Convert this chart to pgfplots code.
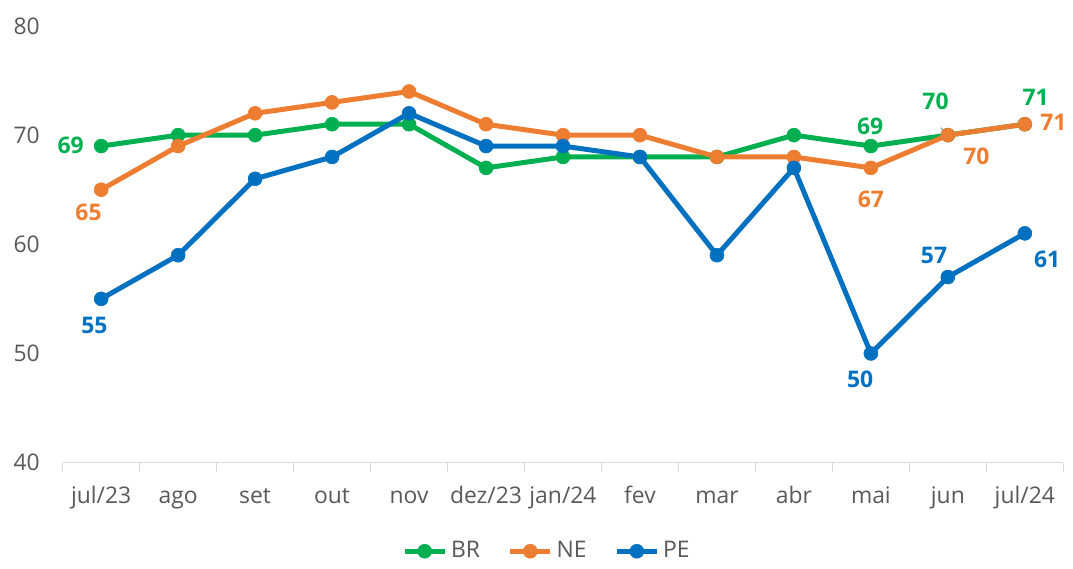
\documentclass[border=0pt]{standalone}
\usepackage{fontspec}
\setmainfont{Open Sans}
\usepackage{pgfplots}
\pgfplotsset{compat=1.18}

\definecolor{cBR}{RGB}{0,176,80}
\definecolor{cNE}{RGB}{237,125,49}
\definecolor{cPE}{RGB}{0,112,192}
\definecolor{txt}{RGB}{89,89,89}
\definecolor{axgray}{RGB}{217,217,217}

\begin{document}
\begin{tikzpicture}
\begin{axis}[
    scale only axis,
    width=503pt, height=219.5pt,
    xmin=-0.5, xmax=12.5, ymin=40, ymax=80,
    clip=false,
    axis y line*=left, axis x line*=bottom,
    y axis line style={draw=none},
    x axis line style={draw=axgray, line width=0.8pt},
    xtick={0,...,12},
    xticklabels={jul/23,ago,set,out,nov,dez/23,jan/24,fev,mar,abr,mai,jun,jul/24},
    minor xtick={-0.5,0.5,...,12.5},
    major tick length=0pt,
    minor tick length=4.5pt,
    tick align=outside,
    minor tick style={draw=axgray, line width=0.8pt},
    ytick={40,50,...,80},
    ytick style={draw=none},
    tick label style={font=\fontsize{11.5}{13}\selectfont, text=txt},
    xticklabel style={yshift=-9pt, text height=1.5ex, text depth=0.45ex},
    yticklabel style={xshift=-8pt},
    /pgf/number format/assume math mode=true,
    legend style={at={(0.485,-0.203)}, anchor=center, draw=none,
        legend columns=3, font=\fontsize{11.5}{13}\selectfont\color{txt},
        /tikz/every even column/.append style={column sep=12pt}},
    legend image code/.code={
        \draw[#1, mark repeat=2, mark phase=2] plot coordinates {(0pt,0pt) (10pt,0pt) (20pt,0pt)};},
    every axis plot/.append style={line width=2.5pt, mark=*, mark size=3.5pt},
]
\addplot[cBR, mark options={fill=cBR, draw=cBR, line width=0.3pt}] coordinates {
(0,69) (1,70) (2,70) (3,71) (4,71) (5,67) (6,68) (7,68) (8,68) (9,70) (10,69) (11,70) (12,71)};
\addlegendentry{BR}
\addplot[cNE, mark options={fill=cNE, draw=cNE, line width=0.3pt}] coordinates {
(0,65) (1,69) (2,72) (3,73) (4,74) (5,71) (6,70) (7,70) (8,68) (9,68) (10,67) (11,70) (12,71)};
\addlegendentry{NE}
\addplot[cPE, mark options={fill=cPE, draw=cPE, line width=0.3pt}] coordinates {
(0,55) (1,59) (2,66) (3,68) (4,72) (5,69) (6,69) (7,68) (8,59) (9,67) (10,50) (11,57) (12,61)};
\addlegendentry{PE}

\draw[gray!70, line width=0.8pt] (axis cs:10.91,70.68) -- (axis cs:10.99,69.95);

\begin{scope}[every node/.style={font=\fontsize{11.5}{13}\selectfont\bfseries, anchor=center}]
\node[text=cBR] at (axis cs:-0.396,69.07) {69};
\node[text=cNE] at (axis cs:-0.164,62.96) {65};
\node[text=cPE] at (axis cs:-0.087,52.57) {55};
\node[text=cBR] at (axis cs:9.99,70.80) {69};
\node[text=cNE] at (axis cs:10,64.15) {67};
\node[text=cBR] at (axis cs:10.84,73.08) {70};
\node[text=cNE] at (axis cs:11.37,68.06) {70};
\node[text=cBR] at (axis cs:12.14,73.44) {71};
\node[text=cNE] at (axis cs:12.37,71.16) {71};
\node[text=cPE] at (axis cs:9.86,47.65) {50};
\node[text=cPE] at (axis cs:10.82,58.95) {57};
\node[text=cPE] at (axis cs:12.29,58.59) {61};
\end{scope}
\end{axis}
\path (current bounding box.north west) ++(-3.5pt,5.5pt);
\end{tikzpicture}
\end{document}
